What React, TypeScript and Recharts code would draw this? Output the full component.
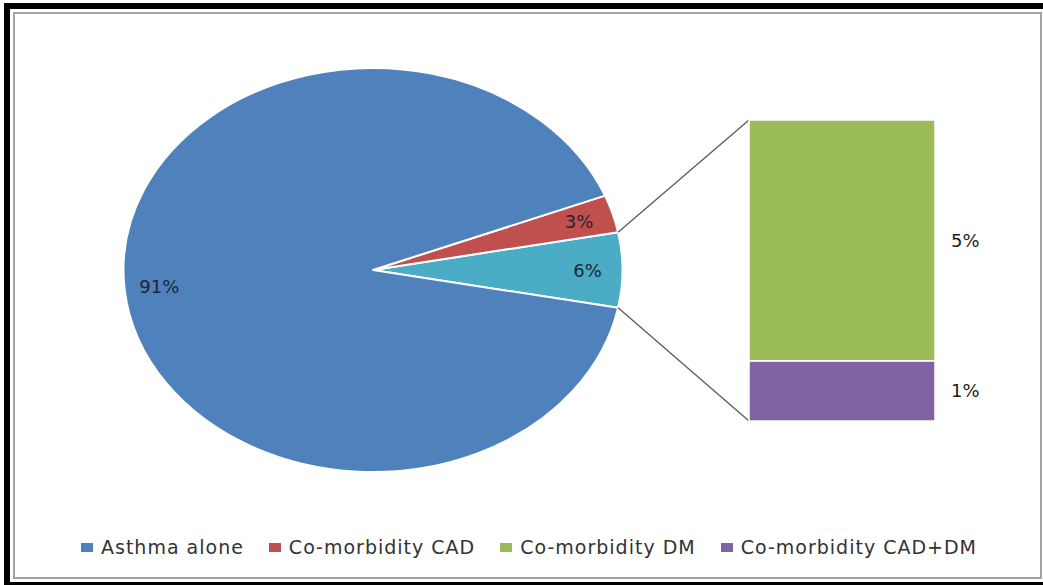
import React from 'react';
import { PieChart, Pie, Cell, BarChart, Bar, XAxis, YAxis, LabelList } from 'recharts';

// ---- data ----
const pieNames = ['Co-morbidity DM + CAD+DM', 'Co-morbidity CAD', 'Asthma alone'];
const pieValues = [6, 3, 91];
const pieColors = ['#4BACC6', '#C0504D', '#4F81BD'];

const barCategories = ['Other'];
const dmValues = [4.8];
const cadDmValues = [1.2];

const legendNames = ['Asthma alone', 'Co-morbidity CAD', 'Co-morbidity DM', 'Co-morbidity CAD+DM'];
const legendColors = ['#4F81BD', '#C0504D', '#9BBB59', '#8064A2'];

// ---- layout ----
const W = 1043;
const H = 585;
const PIE_CX = 373;
const PIE_CY = 270;
const PIE_RY = 202;
const X_STRETCH = 249.5 / 202;
const FONT = '"DejaVu Sans", Verdana, sans-serif';

const pieData = pieNames.map((name, i) => ({ name, value: pieValues[i] }));
const pieTotal = pieValues.reduce((a, b) => a + b, 0);
const START_ANGLE = (-360 * pieValues[0]) / pieTotal / 2;
const barData = barCategories.map((name, i) => ({ name, dm: dmValues[i], caddm: cadDmValues[i] }));

const RAD = Math.PI / 180;
function ellipsePoint(angle: number, f = 1): [number, number] {
  return [
    PIE_CX + PIE_RY * X_STRETCH * f * Math.cos(angle * RAD),
    PIE_CY - PIE_RY * f * Math.sin(angle * RAD),
  ];
}

const EllipseSector = (props: any) => {
  const { cx, cy, outerRadius, startAngle, endAngle, fill } = props;
  const rx = outerRadius * X_STRETCH;
  const ry = outerRadius;
  const p1 = [cx + rx * Math.cos(startAngle * RAD), cy - ry * Math.sin(startAngle * RAD)];
  const p2 = [cx + rx * Math.cos(endAngle * RAD), cy - ry * Math.sin(endAngle * RAD)];
  const large = Math.abs(endAngle - startAngle) > 180 ? 1 : 0;
  const sweep = endAngle > startAngle ? 0 : 1;
  const d = `M${cx},${cy} L${p1[0]},${p1[1]} A${rx},${ry} 0 ${large} ${sweep} ${p2[0]},${p2[1]} Z`;
  return <path d={d} fill={fill} stroke="#ffffff" strokeWidth={2} strokeLinejoin="round" />;
};

const renderPieLabel = (props: any) => {
  const { cx, cy, midAngle, outerRadius, value } = props;
  const f = 0.86;
  const x = cx + outerRadius * X_STRETCH * f * Math.cos(midAngle * RAD);
  const y = cy - outerRadius * f * Math.sin(midAngle * RAD);
  return (
    <text x={x} y={y} textAnchor="middle" dominantBaseline="central" fill="#1e2533" fontSize={18} fontFamily={FONT}>
      {`${Math.round((value / pieTotal) * 100)}%`}
    </text>
  );
};

const upperEdge = START_ANGLE + (360 * pieValues[0]) / pieTotal;
const lowerEdge = START_ANGLE;

const TopBarShape = (props: any) => {
  const { x, y, width, height, fill } = props;
  const [px, py] = ellipsePoint(upperEdge);
  return (
    <g>
      <line x1={px} y1={py} x2={x} y2={y} stroke="#5a5a5a" strokeWidth={1.3} />
      <rect x={x} y={y} width={width} height={height} fill={fill} stroke="#ffffff" strokeWidth={1.5} />
    </g>
  );
};

const BottomBarShape = (props: any) => {
  const { x, y, width, height, fill } = props;
  const [px, py] = ellipsePoint(lowerEdge);
  return (
    <g>
      <line x1={px} y1={py} x2={x} y2={y + height} stroke="#5a5a5a" strokeWidth={1.3} />
      <rect x={x} y={y} width={width} height={height} fill={fill} stroke="#ffffff" strokeWidth={1.5} />
    </g>
  );
};

const pctFormatter = (v: any) => `${Math.round(Number(v))}%`;

export default function App() {
  return (
    <div style={{ position: 'absolute', left: 0, top: 0, width: W, height: H, overflow: 'hidden', background: '#fff' }}>
      {/* outer black frame */}
      <div style={{ position: 'absolute', left: 4, top: 3, width: 1046, height: 585, border: '6px solid #000', boxSizing: 'border-box' }} />
      {/* inner gray frame */}
      <div style={{ position: 'absolute', left: 13, top: 12, width: 1029, height: 567, border: '2px solid #a3a3a3', boxSizing: 'border-box' }} />

      <div style={{ position: 'absolute', left: 0, top: 0 }}>
        <PieChart width={W} height={H} margin={{ top: 0, right: 0, bottom: 0, left: 0 }}>
          <Pie
            data={pieData}
            dataKey="value"
            nameKey="name"
            cx={PIE_CX}
            cy={PIE_CY}
            outerRadius={PIE_RY}
            startAngle={START_ANGLE}
            endAngle={START_ANGLE + 360}
            stroke="#ffffff"
            strokeWidth={2}
            label={renderPieLabel}
            labelLine={false}
            shape={EllipseSector}
            inactiveShape={EllipseSector}
            activeShape={EllipseSector}
            isAnimationActive={false}
          >
            {pieData.map((d, i) => (
              <Cell key={d.name} fill={pieColors[i]} />
            ))}
          </Pie>
        </PieChart>
      </div>

      <div style={{ position: 'absolute', left: 0, top: 0 }}>
        <BarChart width={W} height={H} data={barData} margin={{ top: 120, right: 108, bottom: 164, left: 749 }} barCategoryGap={0}>
          <XAxis dataKey="name" hide />
          <YAxis hide domain={[0, 'dataMax']} />
          <Bar dataKey="caddm" stackId="s" fill="#8064A2" shape={BottomBarShape} isAnimationActive={false}>
            <LabelList dataKey="caddm" position="right" offset={16} formatter={pctFormatter} fill="#1a1a1a" fontSize={18} fontFamily={FONT} />
          </Bar>
          <Bar dataKey="dm" stackId="s" fill="#9BBB59" shape={TopBarShape} isAnimationActive={false}>
            <LabelList dataKey="dm" position="right" offset={16} formatter={pctFormatter} fill="#1a1a1a" fontSize={18} fontFamily={FONT} />
          </Bar>
        </BarChart>
      </div>

      {/* legend */}
      <div
        style={{
          position: 'absolute',
          left: 81,
          top: 535,
          height: 24,
          display: 'flex',
          alignItems: 'center',
          gap: 25,
          fontFamily: FONT,
          fontSize: 19,
          letterSpacing: 1,
          color: '#333',
          whiteSpace: 'nowrap',
        }}
      >
        {legendNames.map((n, i) => (
          <div key={n} style={{ display: 'flex', alignItems: 'center' }}>
            <span style={{ display: 'inline-block', width: 12, height: 9, background: legendColors[i], marginRight: 8 }} />
            <span>{n}</span>
          </div>
        ))}
      </div>
    </div>
  );
}
